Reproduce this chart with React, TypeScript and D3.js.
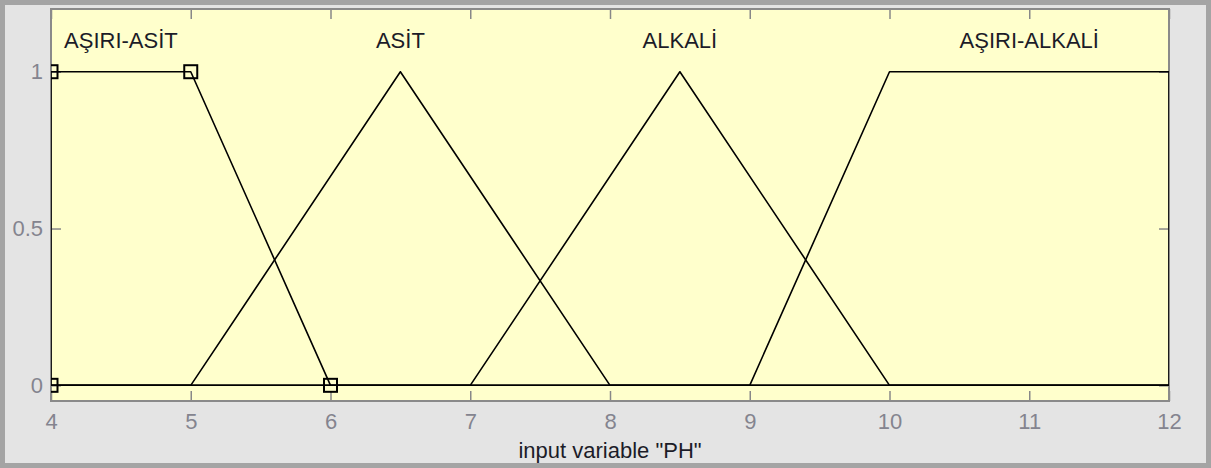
import * as d3 from 'd3';
import React, { useEffect, useRef } from 'react';

// membership functions of input "PH"
const mfNames = ['AŞIRI-ASİT', 'ASİT', 'ALKALİ', 'AŞIRI-ALKALİ'];
const mfTypes = ['trapmf', 'trimf', 'trimf', 'trapmf'];
const mfParams = [
  [4, 4, 5, 6],
  [5, 6.5, 8],
  [7, 8.5, 10],
  [9, 10, 12, 12],
];
const selectedMf = 0;

const xRange = [4, 12];
const yRange = [-0.05, 1.2];
const xTicks = [4, 5, 6, 7, 8, 9, 10, 11, 12];
const yTicks = [0, 0.5, 1];
const xLabel = 'input variable "PH"';

const W = 1211;
const H = 468;
const FONT = '"Liberation Sans", Arial, sans-serif';

function mfPoints(type, p) {
  // corner points of the membership function over the whole range
  const pts = type === 'trimf'
    ? [[p[0], 0], [p[1], 1], [p[2], 0]]
    : [[p[0], 0], [p[1], 1], [p[2], 1], [p[3], 0]];
  return [[xRange[0], 0], ...pts, [xRange[1], 0]];
}

function drawChart(node) {
  const svg = d3.select(node);
  svg.selectAll('*').remove();

  const left = 51, right = 1169, top = 9, bottom = 401;

  const x = d3.scaleLinear().domain(xRange).range([left, right]);
  const y = d3.scaleLinear().domain(yRange).range([bottom, top]);

  // figure background and frame
  svg.append('rect')
    .attr('x', 2.5).attr('y', 2.5)
    .attr('width', W - 5).attr('height', H - 5)
    .attr('fill', '#e4e4e4')
    .attr('stroke', '#a4a4a4')
    .attr('stroke-width', 5);

  svg.append('rect')
    .attr('x', left).attr('y', top)
    .attr('width', right - left).attr('height', bottom - top)
    .attr('fill', '#ffffcc');

  svg.append('defs').append('clipPath').attr('id', 'plotclip')
    .append('rect')
    .attr('x', left).attr('y', top)
    .attr('width', right - left).attr('height', bottom - top);

  const tickColor = '#888888';
  const labelColor = '#84848f';

  const xAxis = d3.axisBottom(x).tickValues(xTicks).tickFormat(d3.format('d'))
    .tickSizeInner(-10).tickSizeOuter(0).tickPadding(12);
  const yAxis = d3.axisLeft(y).tickValues(yTicks).tickFormat(d => String(d))
    .tickSizeInner(-10).tickSizeOuter(0).tickPadding(8);

  const gx = svg.append('g').attr('transform', `translate(0,${bottom})`).call(xAxis);
  const gy = svg.append('g').attr('transform', `translate(${left},0)`).call(yAxis);

  svg.append('g').attr('transform', `translate(0,${top})`)
    .call(d3.axisTop(x).tickValues(xTicks).tickFormat(() => '').tickSizeInner(-10).tickSizeOuter(0));
  svg.append('g').attr('transform', `translate(${right},0)`)
    .call(d3.axisRight(y).tickValues(yTicks).tickFormat(() => '').tickSizeInner(-10).tickSizeOuter(0));

  svg.selectAll('.domain').remove();
  svg.selectAll('.tick line').attr('stroke', tickColor).attr('stroke-width', 1.5);
  [gx, gy].forEach(g => g.selectAll('text')
    .attr('fill', labelColor)
    .style('font-family', FONT)
    .style('font-size', '22px'));

  // axes box
  svg.append('rect')
    .attr('x', left).attr('y', top)
    .attr('width', right - left).attr('height', bottom - top)
    .attr('fill', 'none')
    .attr('stroke', '#8a8a8a')
    .attr('stroke-width', 2);

  const plot = svg.append('g').attr('clip-path', 'url(#plotclip)');

  const line = d3.line()
    .x(d => x(d[0]))
    .y(d => y(d[1]));

  mfParams.forEach((p, i) => {
    plot.append('path')
      .datum(mfPoints(mfTypes[i], p))
      .attr('fill', 'none')
      .attr('stroke', '#000')
      .attr('stroke-width', 1.6)
      .attr('stroke-linejoin', 'round')
      .attr('d', line);
  });

  // square markers on the selected MF
  const sel = mfPoints(mfTypes[selectedMf], mfParams[selectedMf]).slice(1, -1);
  const ms = 13;
  plot.selectAll('rect.marker')
    .data(sel)
    .join('rect')
    .attr('class', 'marker')
    .attr('x', d => x(d[0]) - ms / 2)
    .attr('y', d => y(d[1]) - ms / 2)
    .attr('width', ms).attr('height', ms)
    .attr('fill', 'none')
    .attr('stroke', '#000')
    .attr('stroke-width', 2);

  // MF names centred over their cores at y = 1.1
  mfParams.forEach((p, i) => {
    const core = mfTypes[i] === 'trimf' ? [p[1], p[1]] : [p[1], p[2]];
    svg.append('text')
      .attr('x', x((core[0] + core[1]) / 2))
      .attr('y', y(1.1) + 7.5)
      .attr('text-anchor', 'middle')
      .attr('fill', '#1c1c28')
      .style('font-family', FONT)
      .style('font-size', '22px')
      .text(mfNames[i]);
  });

  svg.append('text')
    .attr('x', (left + right) / 2)
    .attr('y', 458)
    .attr('text-anchor', 'middle')
    .attr('fill', '#1c1c28')
    .style('font-family', FONT)
    .style('font-size', '22px')
    .text(xLabel);
}

export default function App() {
  const ref = useRef(null);
  useEffect(() => drawChart(ref.current), []);
  return (
    <div style={{ position: 'absolute', left: 0, top: 0 }}>
      <svg ref={ref} width={W} height={H} style={{ display: 'block' }} />
    </div>
  );
}
